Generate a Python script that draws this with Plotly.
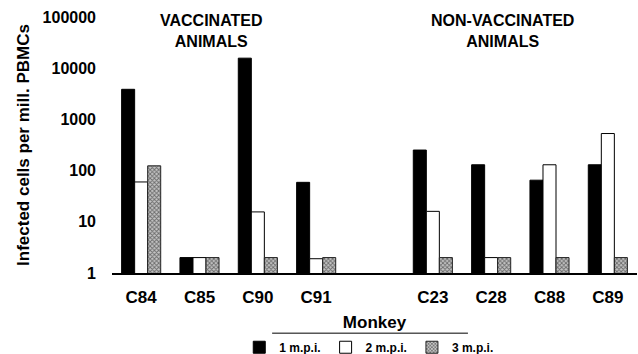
import plotly.graph_objects as go

slots = ["C84", "C85", "C90", "C91", " ", "C23", "C28", "C88", "C89"]
monkeys = ["C84", "C85", "C90", "C91", "C23", "C28", "C88", "C89"]
m1 = [3870, 2, 15700, 59, 252, 130, 65, 130]
m2 = [60, 2, 15.6, 1.9, 16, 2, 130, 530]
m3 = [124, 2, 2, 2, 2, 2, 2, 2]
series_names = ["1 m.p.i.", "2 m.p.i.", "3 m.p.i."]
y_ticks = [1, 10, 100, 1000, 10000, 100000]

FONT = "Liberation Sans, Arial, Helvetica, sans-serif"

fig = go.Figure()
fig.add_trace(go.Bar(x=monkeys, y=m1, name=series_names[0],
                     marker=dict(color="black", line=dict(color="black", width=1))))
fig.add_trace(go.Bar(x=monkeys, y=m2, name=series_names[1],
                     marker=dict(color="white", line=dict(color="black", width=1))))
fig.add_trace(go.Bar(x=monkeys, y=m3, name=series_names[2],
                     marker=dict(color="#8a8a8a", line=dict(color="#222", width=1),
                                 pattern=dict(shape="x", size=3, solidity=0.5,
                                              fgcolor="#111", bgcolor="#c4c4c4"))))

fig.update_layout(
    width=638, height=354,
    margin=dict(l=112, r=1, t=17, b=81, autoexpand=False),
    paper_bgcolor="white", plot_bgcolor="white",
    barmode="group", bargap=0.33, bargroupgap=0,
    font=dict(family=FONT, color="black", size=15, weight="bold"),
    showlegend=True,
    legend=dict(orientation="h", x=0.49, xanchor="center", y=-0.29, yanchor="middle",
                font=dict(size=12, family=FONT, weight="bold"),
                itemwidth=30, tracegroupgap=0, bgcolor="rgba(0,0,0,0)",
                traceorder="normal"),
)

fig.update_xaxes(
    type="category", categoryorder="array", categoryarray=slots,
    range=[-0.5, len(slots) - 0.5],
    showline=True, linecolor="black", linewidth=1.5,
    showgrid=False, zeroline=False, ticks="",
    tickfont=dict(size=17, family=FONT, weight="bold"),
    ticklabelstandoff=8,
    title=dict(text="Monkey", font=dict(size=17, family=FONT, weight="bold"), standoff=10),
    automargin=False,
)
fig.update_yaxes(
    type="log", range=[0, 5],
    tickvals=y_ticks, ticktext=[str(v) for v in y_ticks],
    showline=False, showgrid=False, zeroline=False, ticks="",
    tickfont=dict(size=16, family=FONT, weight="bold"),
    ticklabelstandoff=15,
    title=dict(text="Infected cells per mill. PBMCs",
               font=dict(size=17, family=FONT, weight="bold"), standoff=8),
    automargin=False,
)

# line under the x-axis title
fig.add_shape(type="line", xref="paper", yref="paper",
              x0=0.305, x1=0.678, y0=-0.235, y1=-0.235,
              line=dict(color="black", width=1))

for txt, xp in [("VACCINATED<br>ANIMALS", 0.189), ("NON-VACCINATED<br>ANIMALS", 0.744)]:
    fig.add_annotation(text=txt, xref="paper", yref="paper", x=xp, y=0.945,
                       xanchor="center", yanchor="middle", showarrow=False,
                       font=dict(size=16, family=FONT, weight="bold"))

fig.write_html("out.html")
